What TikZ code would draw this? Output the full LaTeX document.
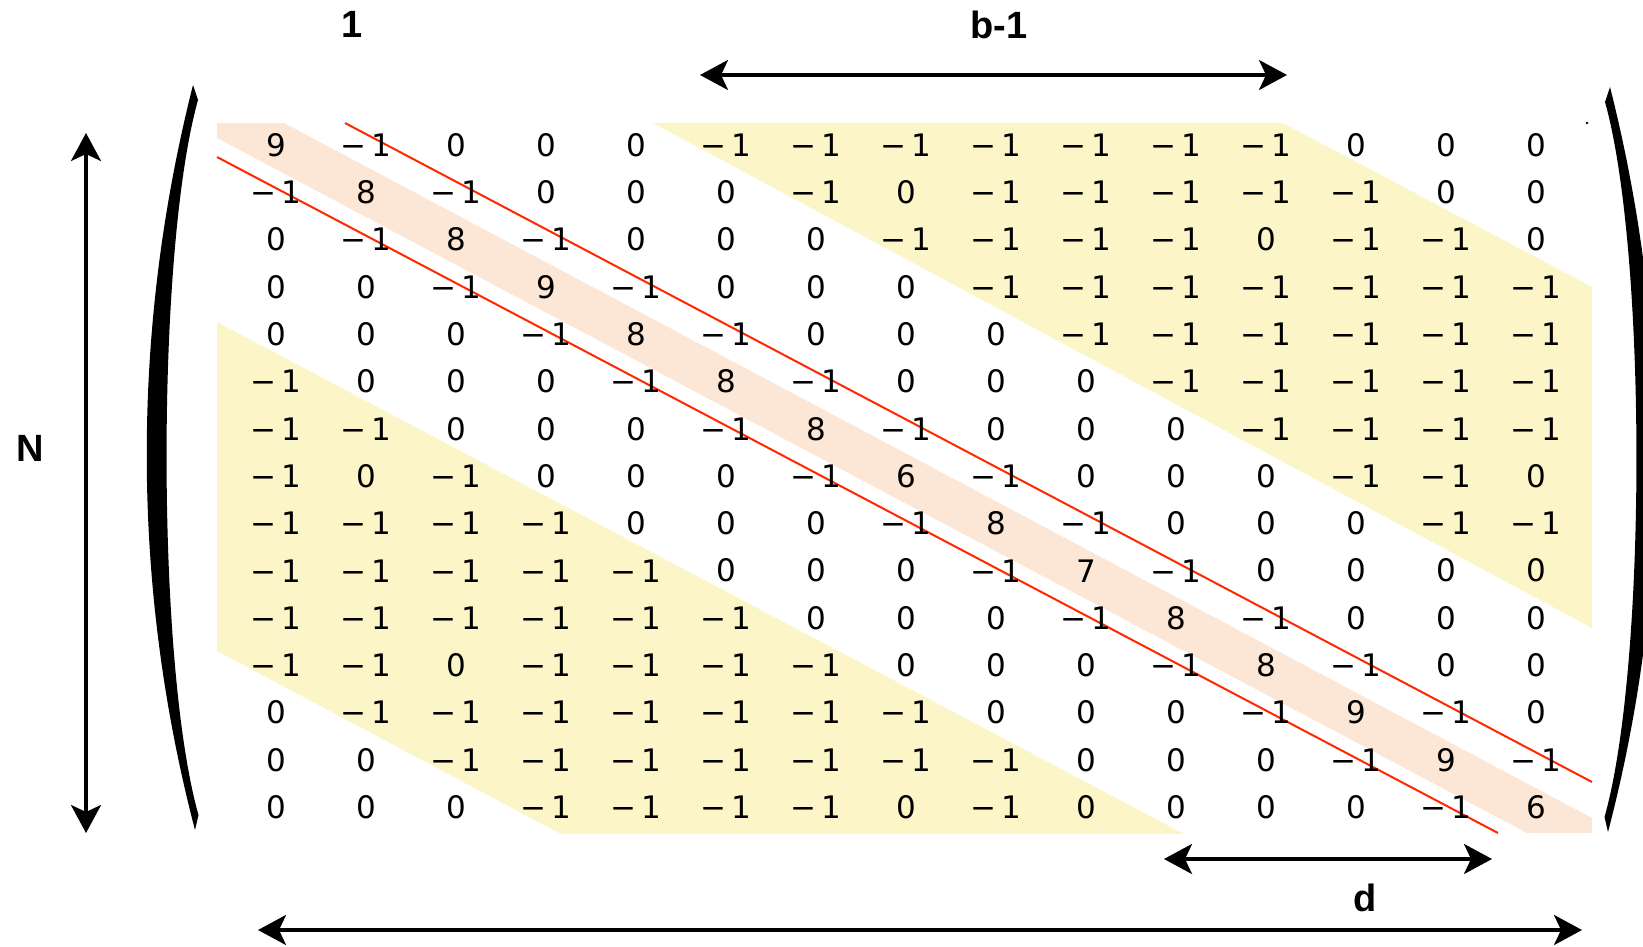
\documentclass[tikz,border=0pt]{standalone}
\usepackage{fontspec}
\setmainfont{DejaVu Sans}
\newfontfamily\labelfont{Liberation Sans}
\usetikzlibrary{arrows.meta}
\definecolor{bandorange}{RGB}{252,230,213}
\definecolor{bandyellow}{RGB}{252,245,199}
\definecolor{redline}{RGB}{255,40,0}
\newcommand{\mo}{−\kern5pt 1}
\tikzset{
  entry/.style={font=\fontsize{31}{36}\selectfont, inner sep=0pt, anchor=center},
  dimarrow/.style={line width=3.3pt, {Stealth[length=28pt,width=30pt,inset=7pt]}-{Stealth[length=28pt,width=30pt,inset=7pt]}},
  lbl/.style={font=\labelfont\bfseries\fontsize{38}{44}\selectfont, inner sep=0pt, anchor=base},
  redrule/.style={draw=redline, line width=2pt},
  parenshape/.style={fill=black},
}
\begin{document}
\begin{tikzpicture}[x=1pt,y=-1pt]
\useasboundingbox (0,0) rectangle (1643,947);
\clip (0,0) rectangle (1643,947);
% shaded regions
\fill[bandyellow] (653,123) -- (1283,123) -- (1592,287) -- (1592,628) -- cycle;
\fill[bandyellow] (217,322) -- (1184,834) -- (561,834) -- (217,651) -- cycle;
\fill[bandorange] (217,123) -- (284,123) -- (1592,818) -- (1592,833) -- (1527,833) -- (217,138) -- cycle;
% red lines
\coordinate (ru1) at (345,123);
\coordinate (ru2) at (1592,782);
\coordinate (rl1) at (217,157);
\coordinate (rl2) at (1498,833);
\draw[redrule] (ru1) -- (ru2);
\draw[redrule] (rl1) -- (rl2);
% matrix entries
\foreach \row [count=\r] in {
 {9,\mo,0,0,0,\mo,\mo,\mo,\mo,\mo,\mo,\mo,0,0,0},
 {\mo,8,\mo,0,0,0,\mo,0,\mo,\mo,\mo,\mo,\mo,0,0},
 {0,\mo,8,\mo,0,0,0,\mo,\mo,\mo,\mo,0,\mo,\mo,0},
 {0,0,\mo,9,\mo,0,0,0,\mo,\mo,\mo,\mo,\mo,\mo,\mo},
 {0,0,0,\mo,8,\mo,0,0,0,\mo,\mo,\mo,\mo,\mo,\mo},
 {\mo,0,0,0,\mo,8,\mo,0,0,0,\mo,\mo,\mo,\mo,\mo},
 {\mo,\mo,0,0,0,\mo,8,\mo,0,0,0,\mo,\mo,\mo,\mo},
 {\mo,0,\mo,0,0,0,\mo,6,\mo,0,0,0,\mo,\mo,0},
 {\mo,\mo,\mo,\mo,0,0,0,\mo,8,\mo,0,0,0,\mo,\mo},
 {\mo,\mo,\mo,\mo,\mo,0,0,0,\mo,7,\mo,0,0,0,0},
 {\mo,\mo,\mo,\mo,\mo,\mo,0,0,0,\mo,8,\mo,0,0,0},
 {\mo,\mo,0,\mo,\mo,\mo,\mo,0,0,0,\mo,8,\mo,0,0},
 {0,\mo,\mo,\mo,\mo,\mo,\mo,\mo,0,0,0,\mo,9,\mo,0},
 {0,0,\mo,\mo,\mo,\mo,\mo,\mo,\mo,0,0,0,\mo,9,\mo},
 {0,0,0,\mo,\mo,\mo,\mo,0,\mo,0,0,0,0,\mo,6}}{
  \foreach \v [count=\c] in \row {
    \node[entry] (e-\r-\c) at ({276+(\c-1)*90},{145+(\r-1)*47.3}) {\v};
  }
}
% parentheses
\fill[parenshape] (193,85) .. controls (131,330) and (131,585) .. (195,830)
  -- (198.5,815) .. controls (156,665) and (156,250) .. (198,100) -- cycle;
\fill[parenshape] (1610,87) .. controls (1672,332) and (1672,587) .. (1608,832)
  -- (1604.5,817) .. controls (1647,667) and (1647,252) .. (1605,102) -- cycle;
\fill (1587,123) circle (1.3);
% dimension arrows
\coordinate (ba1) at (700,75);
\coordinate (ba2) at (1287,75);
\coordinate (na1) at (86,133);
\coordinate (na2) at (86,833);
\coordinate (da1) at (1164,859);
\coordinate (da2) at (1492,859);
\coordinate (wa1) at (258,930);
\coordinate (wa2) at (1582,930);
\draw[dimarrow] (ba1) -- (ba2);
\draw[dimarrow] (na1) -- (na2);
\draw[dimarrow] (da1) -- (da2);
\draw[dimarrow] (wa1) -- (wa2);
% labels
\node[lbl] (lone) at (352,37.5) {1};
\node[lbl] (lb) at (999,38.3) {b-1};
\node[lbl] (lN) at (30,461) {N};
\node[lbl] (ld) at (1365,911) {d};
\end{tikzpicture}
\end{document}
